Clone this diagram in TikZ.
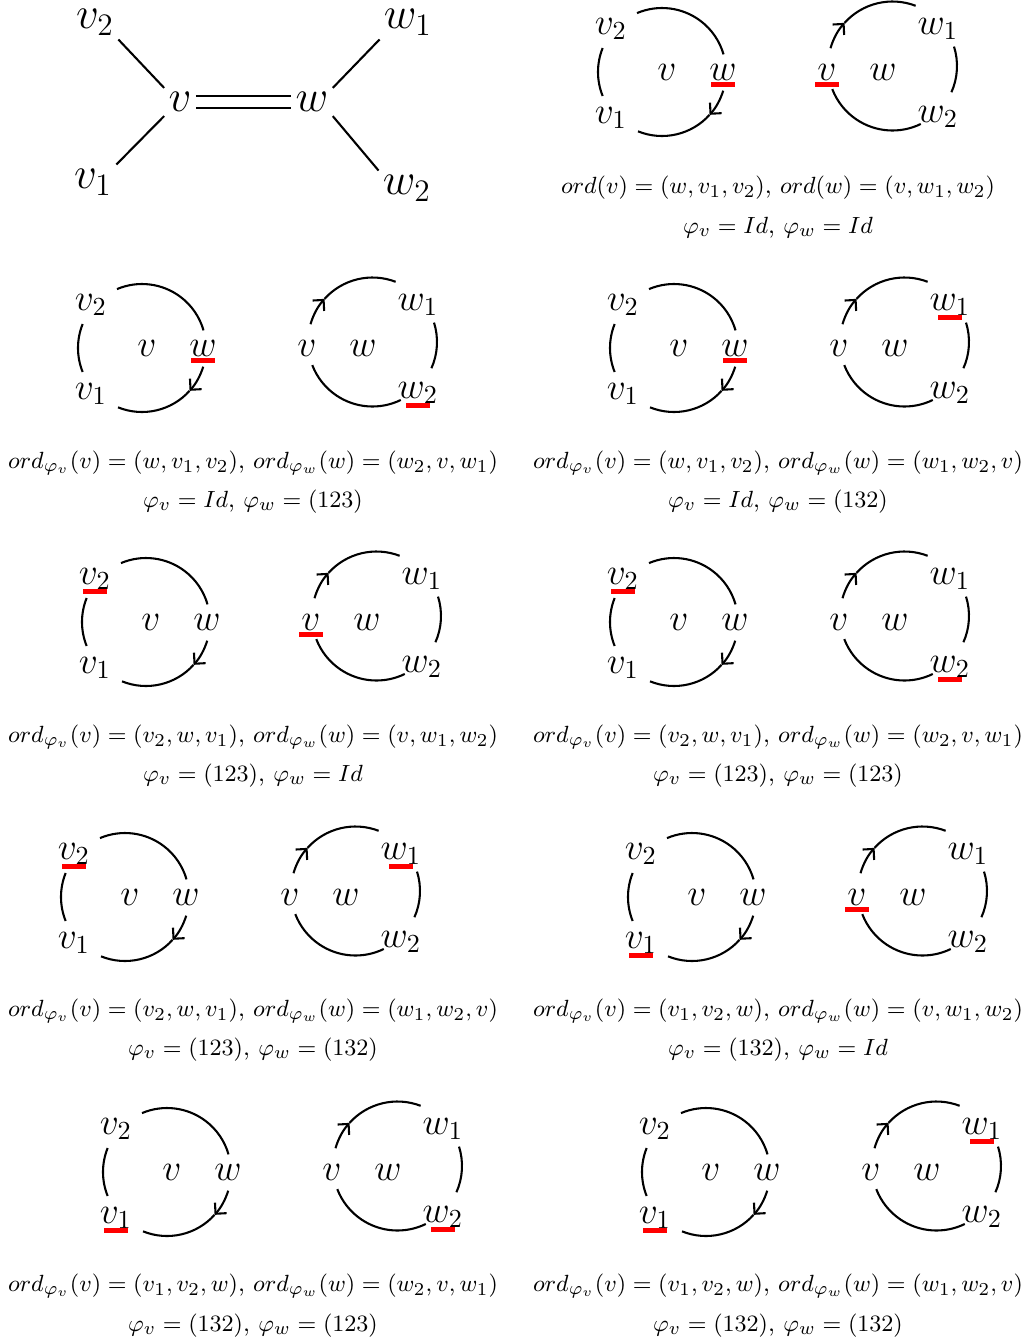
\documentclass[tikz,border=0pt]{standalone}
\usetikzlibrary{arrows.meta}

\tikzset{
  etiq/.style={font=\fontsize{13.8}{16}\selectfont, inner sep=1pt},
  gran/.style={font=\fontsize{18.5}{22}\selectfont, inner sep=1.5pt},
  leyenda/.style={font=\fontsize{9.3}{11}\selectfont, inner sep=0pt},
  arco/.style={thick},
  marca/.style={red},
  flecha/.style={-{Straight Barb[length=3pt,width=6pt]}}
}

% pareja de circulos: prefijo, x, y (etiqueta v), subrayado en v, subrayado en w
\newcommand{\pareja}[5]{%
  % circulo de v
  \node (#1-v)  [etiq] at (#2,-#3) {$v$};
  \node (#1-vw) [etiq] at (#2+56,-#3) {$w$};
  \node (#1-v2) [etiq] at (#2-56,-#3+43) {$v_2$};
  \node (#1-v1) [etiq] at (#2-56,-#3-46) {$v_1$};
  \draw[arco] (#2-5,-#3) ++(113:64) arc[start angle=113, end angle=16, radius=64];
  \draw[arco, flecha] (#2-5,-#3) ++(-17:64) arc[start angle=-17, end angle=-42, radius=64];
  \draw[arco] (#2-5,-#3) ++(-42:64) arc[start angle=-42, end angle=-112, radius=64];
  \draw[arco] (#2-5,-#3) ++(158:64) arc[start angle=158, end angle=202, radius=64];
  % circulo de w
  \node (#1-w)  [etiq] at (#2+216,-#3) {$w$};
  \node (#1-wv) [etiq] at (#2+160,-#3) {$v$};
  \node (#1-w1) [etiq] at (#2+271,-#3+43) {$w_1$};
  \node (#1-w2) [etiq] at (#2+271,-#3-45) {$w_2$};
  \draw[arco, flecha] (#2+225.5,-#3+6) ++(164:64.5) arc[start angle=164, end angle=138, radius=64.5];
  \draw[arco] (#2+225.5,-#3+6) ++(138:64.5) arc[start angle=138, end angle=69, radius=64.5];
  \draw[arco] (#2+225.5,-#3+6) ++(17.5:64.5) arc[start angle=17.5, end angle=-24, radius=64.5];
  \draw[arco] (#2+225.5,-#3+6) ++(-64:64.5) arc[start angle=-64, end angle=-159, radius=64.5];
  % subrayados
  \fill[marca] ([shift={(-12,-9.5)}]#1-#4.center) rectangle ([shift={(12,-14.5)}]#1-#4.center);
  \fill[marca] ([shift={(-12,-9.5)}]#1-#5.center) rectangle ([shift={(12,-14.5)}]#1-#5.center);
}

\begin{document}
\begin{tikzpicture}[x=0.0135cm, y=0.0135cm]
    \useasboundingbox (0,0) rectangle (1026,-1344);

    % Grafo con la arista doble
    \node (v)  [gran] at (180,-102) {$v$};
    \node (w)  [gran] at (312,-102) {$w$};
    \node (v2) [gran] at (95,-22) {$v_2$};
    \node (v1) [gran] at (93,-182) {$v_1$};
    \node (w1) [gran] at (408,-22) {$w_1$};
    \node (w2) [gran] at (407,-188) {$w_2$};
    \draw[thick] (v.north west) -- (v2.south east);
    \draw[thick] (v.south west) -- (v1.north east);
    \draw[thick] (w.north east) -- (w1.south west);
    \draw[thick] (w.south east) -- (w2.north west);
    \draw[thick, double, double distance=3.8pt] (v.east) -- (w.west);

    % Parejas de circulos
    \pareja{a}{667}{72}{vw}{wv}
    \pareja{b}{147}{348}{vw}{w2}
    \pareja{c}{679}{348}{vw}{w1}
    \pareja{d}{151}{622}{v2}{wv}
    \pareja{e}{679}{622}{v2}{w2}
    \pareja{f}{130}{897}{v2}{w1}
    \pareja{g}{697}{897}{v1}{wv}
    \pareja{h}{172}{1172}{v1}{w2}
    \pareja{i}{711}{1172}{v1}{w1}

    % Leyendas
    \node (a-o) [leyenda] at (778,-188) {$ord(v) = (w, v_1, v_2)$, $ord(w) = (v, w_1, w_2)$};
    \node (a-p) [leyenda] at (778,-228) {$\varphi_v = Id$, $\varphi_w = Id$};
    \node (b-o) [leyenda] at (253,-463) {$ord_{\varphi_v}(v) = (w, v_1, v_2)$, $ord_{\varphi_w}(w) = (w_2, v, w_1)$};
    \node (b-p) [leyenda] at (253,-502) {$\varphi_v = Id$, $\varphi_w = (123)$};
    \node (c-o) [leyenda] at (778,-463) {$ord_{\varphi_v}(v) = (w, v_1, v_2)$, $ord_{\varphi_w}(w) = (w_1, w_2, v)$};
    \node (c-p) [leyenda] at (778,-502) {$\varphi_v = Id$, $\varphi_w = (132)$};
    \node (d-o) [leyenda] at (253,-737) {$ord_{\varphi_v}(v) = (v_2, w, v_1)$, $ord_{\varphi_w}(w) = (v, w_1, w_2)$};
    \node (d-p) [leyenda] at (253,-776) {$\varphi_v = (123)$, $\varphi_w = Id$};
    \node (e-o) [leyenda] at (778,-737) {$ord_{\varphi_v}(v) = (v_2, w, v_1)$, $ord_{\varphi_w}(w) = (w_2, v, w_1)$};
    \node (e-p) [leyenda] at (778,-776) {$\varphi_v = (123)$, $\varphi_w = (123)$};
    \node (f-o) [leyenda] at (253,-1011) {$ord_{\varphi_v}(v) = (v_2, w, v_1)$, $ord_{\varphi_w}(w) = (w_1, w_2, v)$};
    \node (f-p) [leyenda] at (253,-1050) {$\varphi_v = (123)$, $\varphi_w = (132)$};
    \node (g-o) [leyenda] at (778,-1011) {$ord_{\varphi_v}(v) = (v_1, v_2, w)$, $ord_{\varphi_w}(w) = (v, w_1, w_2)$};
    \node (g-p) [leyenda] at (778,-1050) {$\varphi_v = (132)$, $\varphi_w = Id$};
    \node (h-o) [leyenda] at (253,-1286) {$ord_{\varphi_v}(v) = (v_1, v_2, w)$, $ord_{\varphi_w}(w) = (w_2, v, w_1)$};
    \node (h-p) [leyenda] at (253,-1326) {$\varphi_v = (132)$, $\varphi_w = (123)$};
    \node (i-o) [leyenda] at (778,-1286) {$ord_{\varphi_v}(v) = (v_1, v_2, w)$, $ord_{\varphi_w}(w) = (w_1, w_2, v)$};
    \node (i-p) [leyenda] at (778,-1326) {$\varphi_v = (132)$, $\varphi_w = (132)$};
\end{tikzpicture}
\end{document}
